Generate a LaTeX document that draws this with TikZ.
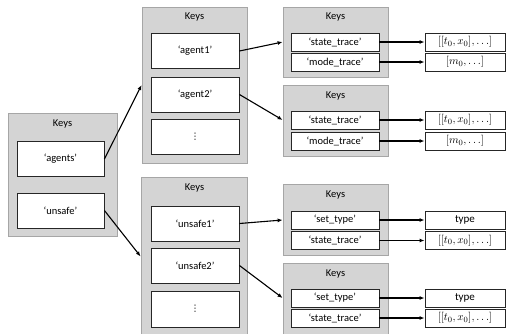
\documentclass[tikz,border=0pt]{standalone}
\usepackage{fontspec}
\setmainfont{Carlito}
\newfontfamily\dvfont{DejaVu Sans}
\usetikzlibrary{arrows.meta}
\newcommand{\vdotstxt}{{\dvfont\fontsize{9}{9}\selectfont ⋮}}
\begin{document}
\begin{tikzpicture}[x=1pt,y=-1pt,
  outer/.style={draw=black!35, fill=black!17, line width=0.8pt, inner sep=0pt},
  inner/.style={draw=black!85, fill=white, line width=0.9pt, inner sep=0pt, font=\fontsize{10.5}{12}\selectfont},
  big/.style={inner, minimum width=88pt, minimum height=35pt},
  small/.style={inner, minimum width=88pt, minimum height=18pt},
  val/.style={inner, minimum width=80pt, minimum height=18pt, font=\fontsize{11}{12}\selectfont},
  keylbl/.style={font=\fontsize{10.5}{12}\selectfont, inner sep=0pt},
  link/.style={line width=1.1pt, -{Latex[length=5pt,width=4pt]}}]
\useasboundingbox (0,0) rectangle (506,333);
\clip (0,0) rectangle (506,333);
% left
\node[outer, minimum width=109pt, minimum height=123pt] (L) at (62.5,174.5) {};
\node[keylbl] (Lk) at (62.5,124) {Keys};
\node[big, minimum width=87pt] (agents) at (60.5,159) {‘agents’};
\node[big, minimum width=87pt] (unsafe) at (60.5,210.5) {‘unsafe’};
% middle top
\node[outer, minimum width=105pt, minimum height=156pt] (M1) at (194.5,85) {};
\node[keylbl] (M1k) at (194.5,17) {Keys};
\node[big] (agent1) at (195,51) {‘agent1’};
\node[big] (agent2) at (195,94.5) {‘agent2’};
\node[big] (dots1) at (195,136.5) {\vdotstxt};
% middle bottom
\node[outer, minimum width=106pt, minimum height=159pt] (M2) at (194,256.5) {};
\node[keylbl] (M2k) at (194.5,188) {Keys};
\node[big] (unsafe1) at (195,223.5) {‘unsafe1’};
\node[big] (unsafe2) at (195,265.5) {‘unsafe2’};
\node[big, minimum height=36pt] (dots2) at (195,309) {\vdotstxt};
% right boxes
\node[outer, minimum width=105pt, minimum height=70pt] (R1) at (335.5,42) {};
\node[keylbl] (R1k) at (335.5,17) {Keys};
\node[small] (st1) at (335,42) {‘state\_trace’};
\node[small] (mt1) at (335,62) {‘mode\_trace’};
\node[outer, minimum width=105pt, minimum height=71pt] (R2) at (335.5,120.5) {};
\node[keylbl] (R2k) at (335.5,96) {Keys};
\node[small] (st2) at (335,120) {‘state\_trace’};
\node[small] (mt2) at (335,141) {‘mode\_trace’};
\node[outer, minimum width=105pt, minimum height=71pt] (R3) at (335.5,219.5) {};
\node[keylbl] (R3k) at (335.5,195) {Keys};
\node[small] (set3) at (335,220) {‘set\_type’};
\node[small] (st3) at (335,240.5) {‘state\_trace’};
\node[outer, minimum width=105pt, minimum height=80pt] (R4) at (335.5,303) {};
\node[keylbl] (R4k) at (335.5,274) {Keys};
\node[small] (set4) at (335,298) {‘set\_type’};
\node[small] (st4) at (335,318) {‘state\_trace’};
% values
\node[val] (v1) at (465,42) {$[[t_0,x_0],\ldots]$};
\node[val] (v2) at (465,62) {$[m_0,\ldots]$};
\node[val] (v3) at (465,120) {$[[t_0,x_0],\ldots]$};
\node[val] (v4) at (465,141) {$[m_0,\ldots]$};
\node[val] (v5) at (465,220) {type};
\node[val] (v6) at (465,240.5) {$[[t_0,x_0],\ldots]$};
\node[val] (v7) at (465,298) {type};
\node[val] (v8) at (465,318) {$[[t_0,x_0],\ldots]$};
% connectors
\draw[link] (agents.east) -- (M1.west);
\draw[link] (unsafe.east) -- (M2.west);
\draw[link] (agent1.east) -- (R1.west |- st1.west);
\draw[link] (agent2.east) -- (R2.west |- st2.west);
\draw[link] (unsafe1.east) -- (R3.west |- set3.west);
\draw[link] (unsafe2.east) -- (R4.west |- set4.west);
\draw[link] (st1) -- (v1);
\draw[link] (mt1) -- (v2);
\draw[link] (st2) -- (v3);
\draw[link] (mt2) -- (v4);
\draw[link] (set3) -- (v5);
\draw[link] (st3) -- (v6);
\draw[link] (set4) -- (v7);
\draw[link] (st4) -- (v8);
\end{tikzpicture}
\end{document}
